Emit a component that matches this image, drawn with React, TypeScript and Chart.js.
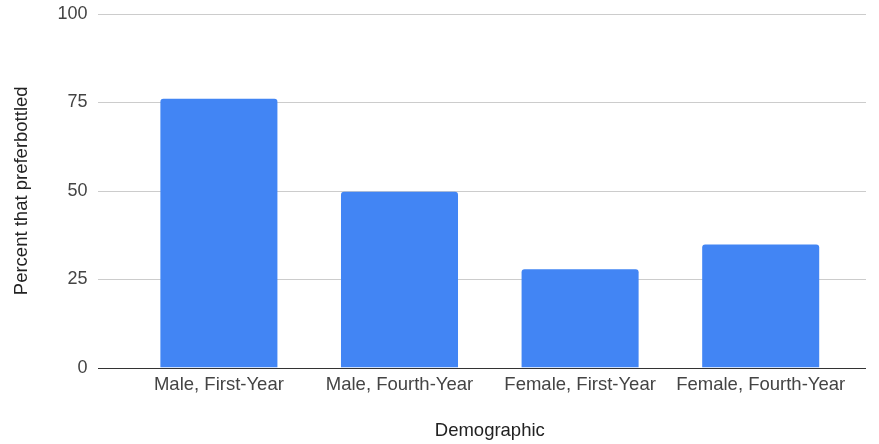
import React, { useEffect, useRef } from "react";
import { Chart, registerables } from "chart.js";

Chart.register(...registerables);

const categories = ["Male, First-Year", "Male, Fourth-Year", "Female, First-Year", "Female, Fourth-Year"];
const values = [76, 49.7, 27.8, 34.8];
const yTicks = [0, 25, 50, 75, 100];
const xTitle = "Demographic";
const yTitle = "Percent that preferbottled";

const FONT = "'Liberation Sans', Arial, sans-serif";

const gridPlugin = {
  id: "extendedGrid",
  beforeDatasetsDraw(chart: any) {
    const { ctx } = chart;
    const y = chart.scales.y;
    ctx.save();
    yTicks.forEach((t) => {
      if (t === 0) return;
      const py = Math.round(y.getPixelForValue(t)) + 0.5;
      ctx.beginPath();
      ctx.strokeStyle = "#cccccc";
      ctx.lineWidth = 1;
      ctx.moveTo(98, py);
      ctx.lineTo(866, py);
      ctx.stroke();
    });
    ctx.restore();
  },
  afterDatasetsDraw(chart: any) {
    const { ctx } = chart;
    const y = chart.scales.y;
    const py = Math.round(y.getPixelForValue(0)) + 0.5;
    ctx.save();
    ctx.beginPath();
    ctx.strokeStyle = "#333333";
    ctx.lineWidth = 1;
    ctx.moveTo(98, py);
    ctx.lineTo(866, py);
    ctx.stroke();
    ctx.restore();
  },
};

export default function App() {
  const ref = useRef<HTMLCanvasElement>(null);
  useEffect(() => {
    if (!ref.current) return;
    const chart = new Chart(ref.current, {
      type: "bar",
      data: {
        labels: categories,
        datasets: [
          {
            data: values,
            backgroundColor: "#4285F4",
            borderRadius: { topLeft: 3, topRight: 3, bottomLeft: 0, bottomRight: 0 },
            borderSkipped: "start",
            barPercentage: 0.648,
            categoryPercentage: 1,
          },
        ],
      },
      options: {
        animation: false,
        responsive: false,
        maintainAspectRatio: false,
        layout: { padding: { top: 14, right: 28, left: 0, bottom: 0 } },
        plugins: {
          legend: { display: false },
          tooltip: { enabled: false },
        },
        scales: {
          x: {
            grid: { display: false, drawTicks: false },
            border: { display: false },
            ticks: { color: "#444444", font: { family: FONT, size: 18.5 }, padding: 6, maxRotation: 0, autoSkip: false },
            title: {
              display: true,
              text: xTitle,
              color: "#222222",
              font: { family: FONT, size: 18.5 },
              padding: { top: 18, bottom: 2 },
            },
          },
          y: {
            min: 0,
            max: 100,
            afterBuildTicks: (scale: any) => {
              scale.ticks = yTicks.map((v) => ({ value: v }));
            },
            grid: { display: false, drawTicks: false },
            border: { display: false },
            ticks: { color: "#444444", font: { family: FONT, size: 18 }, padding: 41 },
            title: {
              display: true,
              text: yTitle,
              color: "#222222",
              font: { family: FONT, size: 18.5 },
              padding: { top: 11, bottom: 0 },
            },
            afterFit: (scale: any) => {
              scale.width = 128.6;
              scale.paddingTop = 0;
              scale.paddingBottom = 0;
            },
          },
        },
      },
      plugins: [gridPlugin],
    });
    return () => chart.destroy();
  }, []);
  return (
    <div style={{ position: "fixed", left: 0, top: 0, width: 879, height: 444, background: "#fff" }}>
      <canvas ref={ref} width={879} height={444} style={{ width: 879, height: 444 }} />
    </div>
  );
}
